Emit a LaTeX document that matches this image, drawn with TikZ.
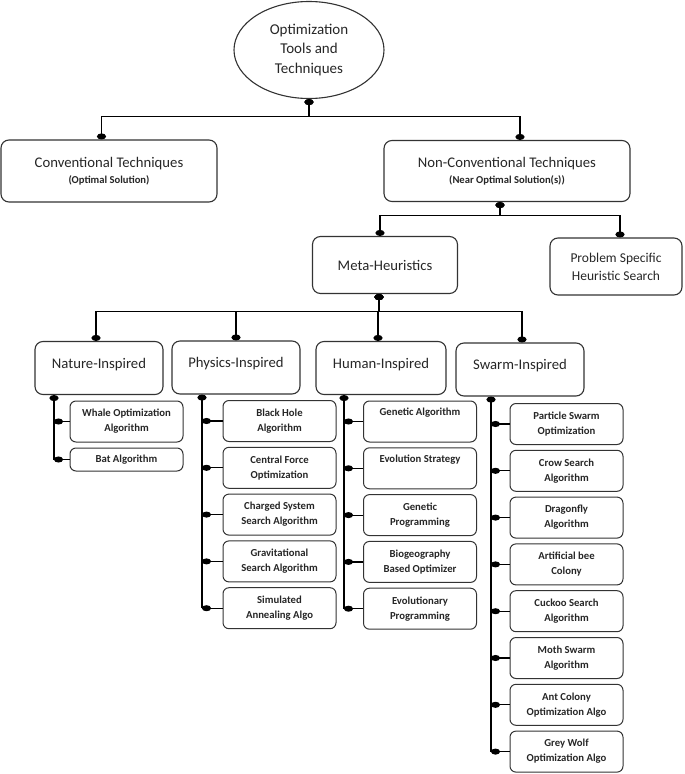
\documentclass[tikz,border=0pt]{standalone}
\usepackage{fontspec}
\setmainfont{Carlito}
\usetikzlibrary{arrows.meta, shapes, positioning}

\newcommand{\solnote}{\bfseries\fontsize{10.6}{12}\selectfont}

\tikzset{
  box/.style={draw=black!80, line width=1.1pt, rounded corners=8pt, align=center, inner sep=0pt, text=black!85, font=\fontsize{14.7}{18}\selectfont},
  cat/.style={box, minimum width=128pt, minimum height=53pt, text depth=10pt},
  leaf/.style={draw=black!80, line width=1pt, rounded corners=6pt, align=center, inner sep=0pt, minimum width=113pt, minimum height=41pt, text=black!85, font=\bfseries\fontsize{10.7}{15}\selectfont},
  link/.style={line width=1.4pt, {Circle[length=6pt,width=9pt]}-{Circle[length=6pt,width=9pt]}},
  trunk/.style={line width=1.4pt, {Circle[length=6pt,width=9pt]}-},
  stub/.style={line width=1.2pt, {Circle[length=9pt,width=6pt]}-}
}

\begin{document}
\begin{tikzpicture}[x=1pt,y=-1pt,node distance=46.8pt,on grid]
  \useasboundingbox (0,0) rectangle (685,774);

  \node[ellipse, draw=black!80, line width=1.1pt, minimum width=150pt, minimum height=97pt, inner sep=0pt, align=center, text=black!85, font=\fontsize{15}{19.5}\selectfont] (root) at (309,50) {Optimization\\Tools and\\Techniques};

  \node[box, minimum width=216pt, minimum height=62pt] (conv) at (109,171) {Conventional Techniques\\[-2pt]{\solnote (Optimal Solution)}};
  \node[box, minimum width=246pt, minimum height=61pt] (nonconv) at (507,171) {Non-Conventional Techniques\\[-2pt]{\solnote (Near Optimal Solution(s))}};
  \node[box, minimum width=145pt, minimum height=57pt] (meta) at (385,265) {Meta-Heuristics};
  \node[box, minimum width=132pt, minimum height=57pt, font=\fontsize{13.5}{18}\selectfont] (problem) at (616,266.5) {Problem Specific\\Heuristic Search};

  \node[cat] (nature)  at (99,368)    {Nature-Inspired};
  \node[cat] (physics) at (236,367.5) {Physics-Inspired};
  \node[cat, minimum width=130pt] (human) at (381,368) {Human-Inspired};
  \node[cat] (swarm)   at (520,369.5) {Swarm-Inspired};

  \node[leaf] (whale) at (126.5,421.5) {Whale Optimization\\Algorithm};
  \node[leaf, minimum height=23pt, below=38pt of whale] (bat) {Bat Algorithm};

  \node[leaf] (bh) at (279.5,421) {Black Hole\\Algorithm};
  \node[leaf, below=of bh] (cf) {Central Force\\Optimization};
  \node[leaf, below=of cf] (cs) {Charged System\\Search Algorithm};
  \node[leaf, below=of cs] (gs) {Gravitational\\Search Algorithm};
  \node[leaf, below=of gs] (sa) {Simulated\\Annealing Algo};

  \node[leaf] (ga) at (420,421.5) {Genetic Algorithm\\\strut};
  \node[leaf, below=of ga] (es) {Evolution Strategy\\\strut};
  \node[leaf, below=of es] (gp) {Genetic\\Programming};
  \node[leaf, below=of gp] (bbo) {Biogeography\\Based Optimizer};
  \node[leaf, below=of bbo] (ep) {Evolutionary\\Programming};

  \node[leaf] (pso) at (566.5,424) {Particle Swarm\\Optimization};
  \node[leaf, below=of pso] (crow) {Crow Search\\Algorithm};
  \node[leaf, below=of crow] (dfa) {Dragonfly\\Algorithm};
  \node[leaf, below=of dfa] (abc) {Artificial bee\\Colony};
  \node[leaf, below=of abc] (cuckoo) {Cuckoo Search\\Algorithm};
  \node[leaf, below=of cuckoo] (moth) {Moth Swarm\\Algorithm};
  \node[leaf, below=of moth] (aco) {Ant Colony\\Optimization Algo};
  \node[leaf, below=of aco] (gwo) {Grey Wolf\\Optimization Algo};

  \draw[link] (root.south) -- ++(0,17.5) -| ([xshift=-7.5pt]conv.north);
  \draw[link] (root.south) -- ++(0,17.5) -| ([xshift=13pt]nonconv.north);
  \draw[link] ([xshift=-7pt]nonconv.south) -- ++(0,13.5) -| ([xshift=-5pt]meta.north);
  \draw[link] ([xshift=-7pt]nonconv.south) -- ++(0,13.5) -| ([xshift=4pt]problem.north);
  \foreach \k/\s in {nature/-3pt, physics/0pt, human/-3pt, swarm/2pt}
    \draw[link] ([xshift=-6pt]meta.south) -- ++(0,17.5) -| ([xshift=\s]\k.north);

  \coordinate (natTop)  at ([xshift=-45pt]nature.south);
  \coordinate (phyTop)  at ([xshift=-34pt]physics.south);
  \coordinate (humTop)  at ([xshift=-37pt]human.south);
  \coordinate (swaTop)  at ([xshift=-29pt]swarm.south);

  \draw[trunk] (natTop) -- (bat.west -| natTop);
  \draw[trunk] (phyTop) -- (sa.west -| phyTop);
  \draw[trunk] (humTop) -- (ep.west -| humTop);
  \draw[trunk] (swaTop) -- (gwo.west -| swaTop);

  \foreach \k in {whale,bat} \draw[stub] (\k.west -| natTop) -- (\k.west);
  \foreach \k in {bh,cf,cs,gs,sa} \draw[stub] (\k.west -| phyTop) -- (\k.west);
  \foreach \k in {ga,es,gp,bbo,ep} \draw[stub] (\k.west -| humTop) -- (\k.west);
  \foreach \k in {pso,crow,dfa,abc,cuckoo,moth,aco,gwo} \draw[stub] (\k.west -| swaTop) -- (\k.west);
\end{tikzpicture}
\end{document}
